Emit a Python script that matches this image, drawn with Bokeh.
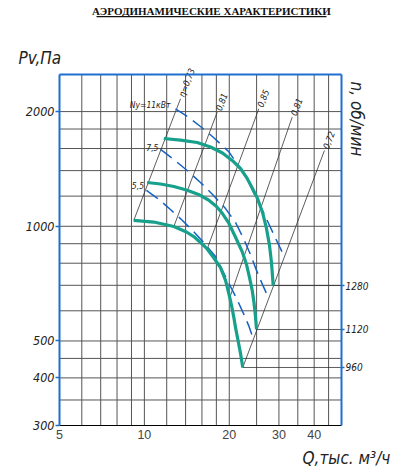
from bokeh.plotting import figure
from bokeh.models import Range1d, LogAxis, FixedTicker, Label, BoxAnnotation, PrintfTickFormatter
from bokeh.core.properties import value
from bokeh.embed import file_html
from bokeh.resources import INLINE

# ---- data (Q in thousand m3/h, Pv in Pa) ----
q_1280 = [11.72, 13.43, 15.39, 17.16, 18.92, 20.70, 21.92, 23.15, 24.18, 25.19, 26.24, 27.10, 27.78, 28.23, 28.63]
p_1280 = [1700, 1684, 1659, 1615, 1557, 1479, 1418, 1335, 1256, 1183, 1087, 987, 891, 803, 699]

q_1120 = [10.23, 11.41, 12.72, 14.10, 15.56, 16.88, 18.02, 18.92, 19.88, 21.05, 22.28, 23.02, 23.59, 24.12, 24.47, 24.77, 24.98]
p_1120 = [1303, 1291, 1272, 1245, 1212, 1172, 1127, 1080, 1023, 936, 854, 794, 734, 679, 631, 580, 536]

q_960 = [9.17, 10.80, 12.72, 14.10, 14.97, 15.81, 16.70, 17.59, 18.62, 19.40, 19.93, 20.37, 20.79, 21.05, 21.48, 21.92, 22.33]
p_960 = [1036, 1026, 999, 966, 940, 907, 872, 828, 779, 721, 666, 620, 573, 542, 502, 464, 426]

q_n11 = [12.89, 14.34, 15.81, 17.59, 19.88, 21.92, 23.40, 24.77, 26.45, 28.00, 29.65, 31.48]
p_n11 = [2034, 1934, 1828, 1710, 1572, 1418, 1311, 1197, 1087, 993, 907, 828]

q_n75 = [11.41, 12.72, 14.18, 15.81, 17.59, 19.40, 21.05, 22.47, 23.78, 24.98, 26.24, 27.62]
p_n75 = [1591, 1497, 1401, 1303, 1205, 1113, 1023, 929, 843, 766, 703, 646]

q_n55 = [10.17, 11.22, 12.37, 13.65, 15.05, 16.47, 17.87, 19.08, 20.20, 21.39, 22.47, 23.50, 24.43]
p_n55 = [1242, 1179, 1107, 1036, 963, 896, 833, 756, 695, 639, 590, 546, 502]

eff_labels = ["η=0,73", "0,81", "0,85", "0,81", "0,72"]
eff_q0 = [9.17, 12.72, 16.70, 20.09, 22.33]
eff_p0 = [1036, 999, 872, 650, 426]
eff_q1 = [13.43, 18.12, 25.45, 33.43, 43.5]
eff_p1 = [2161, 1992, 2034, 1934, 1581]

rpm_labels = ["960", "1120", "1280"]
rpm_q = [22.33, 24.98, 28.63]
rpm_p = [426, 536, 699]

pow_labels = ["5,5", "7,5", "Ny=11кВт"]
pow_q = [9.97, 11.22, 12.37]
pow_p = [1280, 1610, 2087]

Q_MIN, Q_MAX = 5, 50
P_MIN, P_MAX = 300, 2500
x_ticks = [5, 10, 20, 30, 40]
y_ticks = [300, 400, 500, 1000, 2000]
x_grid = [6, 7, 8, 9, 10, 12, 14, 16, 18, 20, 25, 30, 35, 40, 45]
y_grid = [350, 400, 450, 500, 600, 700, 800, 900, 1000, 1200, 1400, 1600, 1800, 2000]

# ---- styles ----
FONT = "DejaVu Sans Condensed, DejaVu Sans, sans-serif"
TEAL = "#17a08c"
DBLUE = "#1462c4"
FBLUE = "#1f6fd0"
GRID = "#555555"
INK = "#222222"

# plot area with room around the chart frame (chart spans Q 5..50, Pv 300..2500)
p = figure(width=400, height=474, x_axis_type="log", y_axis_type="log",
           x_range=Range1d(3.089, 80.95), y_range=Range1d(223.1, 3914),
           output_backend="svg", toolbar_location=None, min_border=0)
p.background_fill_color = "white"
p.border_fill_color = "white"
p.outline_line_color = None
p.xgrid.grid_line_color = None
p.ygrid.grid_line_color = None

# grid of the chart frame
p.segment(x0=x_grid, y0=[P_MIN] * len(x_grid), x1=x_grid, y1=[P_MAX] * len(x_grid),
          line_color=GRID, line_width=1)
p.segment(x0=[Q_MIN] * len(y_grid), y0=y_grid, x1=[Q_MAX] * len(y_grid), y1=y_grid,
          line_color=GRID, line_width=1)

# axes placed on the chart frame
p.xaxis.ticker = FixedTicker(ticks=x_ticks, minor_ticks=[])
p.yaxis.ticker = FixedTicker(ticks=y_ticks, minor_ticks=[])
p.xaxis.formatter = PrintfTickFormatter(format="%d")
p.yaxis.formatter = PrintfTickFormatter(format="%d")
p.xaxis.fixed_location = P_MIN
p.yaxis.fixed_location = Q_MIN
p.xaxis.bounds = (Q_MIN, Q_MAX)
p.yaxis.bounds = (P_MIN, P_MAX)

rax = LogAxis(ticker=FixedTicker(ticks=rpm_p, minor_ticks=[]),
              major_label_overrides={rpm_p[i]: rpm_labels[i] for i in range(3)},
              fixed_location=Q_MAX, bounds=(P_MIN, P_MAX))
p.add_layout(rax, "right")
tax = LogAxis(ticker=FixedTicker(ticks=[], minor_ticks=[]), fixed_location=P_MAX, bounds=(Q_MIN, Q_MAX))
p.add_layout(tax, "above")

for ax in (p.xaxis[0], p.yaxis[0], rax, tax):
    ax.axis_line_color = FBLUE
    ax.axis_line_width = 2
    ax.major_tick_line_color = FBLUE
    ax.major_tick_line_width = 1.5
    ax.major_tick_in = 0
    ax.major_tick_out = 4
    ax.minor_tick_line_color = None
    ax.major_label_text_font = FONT
    ax.major_label_text_font_style = "italic"
    ax.major_label_text_color = INK

p.xaxis.major_tick_line_color = None
p.xaxis.major_tick_out = 0
p.xaxis.major_label_standoff = 5
p.xaxis.major_label_text_font_size = "12.5px"
p.yaxis.major_label_standoff = 1
p.yaxis.major_label_text_font_size = "12.5px"
rax.major_tick_out = 3
rax.major_label_standoff = 1
rax.major_label_text_font_size = "10px"
tax.major_tick_line_color = None
tax.major_label_text_color = None

# rpm marker lines to the right frame
p.segment(x0=rpm_q, y0=rpm_p, x1=[Q_MAX] * 3, y1=rpm_p, line_color="#333333", line_width=0.8)

# efficiency lines
for i in range(5):
    p.line([eff_q0[i], eff_q1[i]], [eff_p0[i], eff_p1[i]], line_color="#333333", line_width=0.8)
p.text(x=eff_q1, y=eff_p1, text=eff_labels, angle=69, angle_units="deg",
       text_align="left", text_baseline="middle", x_offset=1, y_offset=-2,
       text_font=value(FONT), text_font_style="italic", text_font_size="9px", text_color=INK)

# power dashed lines
for qq, pp in ((q_n11, p_n11), (q_n75, p_n75), (q_n55, p_n55)):
    p.line(qq, pp, line_color=DBLUE, line_width=1.5, line_dash="14 7")

# fan curves
for qq, pp in ((q_960, p_960), (q_1120, p_1120), (q_1280, p_1280)):
    p.line(qq, pp, line_color=TEAL, line_width=3.2)

p.text(x=pow_q, y=pow_p, text=pow_labels, text_align="right", text_baseline="middle",
       text_font=value(FONT), text_font_style="italic", text_font_size="8.5px", text_color=INK)

# heading and axis captions (screen units from bottom-left)
p.add_layout(Label(x=211, y=464, x_units="screen", y_units="screen",
                   text="АЭРОДИНАМИЧЕСКИЕ ХАРАКТЕРИСТИКИ", text_align="center", text_baseline="alphabetic",
                   text_font="Liberation Serif", text_font_style="bold", text_font_size="11px",
                   text_color="#111111"))
p.add_layout(BoxAnnotation(left=96, right=326, bottom=457.3, top=458.4,
                           left_units="screen", right_units="screen", top_units="screen", bottom_units="screen",
                           fill_color="#111111", fill_alpha=1, line_color=None))
p.add_layout(Label(x=18, y=417, x_units="screen", y_units="screen", text="Pv,Па",
                   text_align="left", text_baseline="alphabetic", text_font=FONT,
                   text_font_style="italic", text_font_size="17px", text_color=INK))
p.add_layout(Label(x=302, y=17, x_units="screen", y_units="screen", text="Q,тыс. м³/ч",
                   text_align="left", text_baseline="alphabetic", text_font=FONT,
                   text_font_style="italic", text_font_size="17px", text_color=INK))
p.add_layout(Label(x=356, y=393, x_units="screen", y_units="screen", text="n, об/мин",
                   angle=-90, angle_units="deg", text_align="left", text_baseline="middle",
                   text_font=FONT, text_font_style="italic", text_font_size="17px", text_color=INK))

open("out.html", "w").write(file_html(p, INLINE))
